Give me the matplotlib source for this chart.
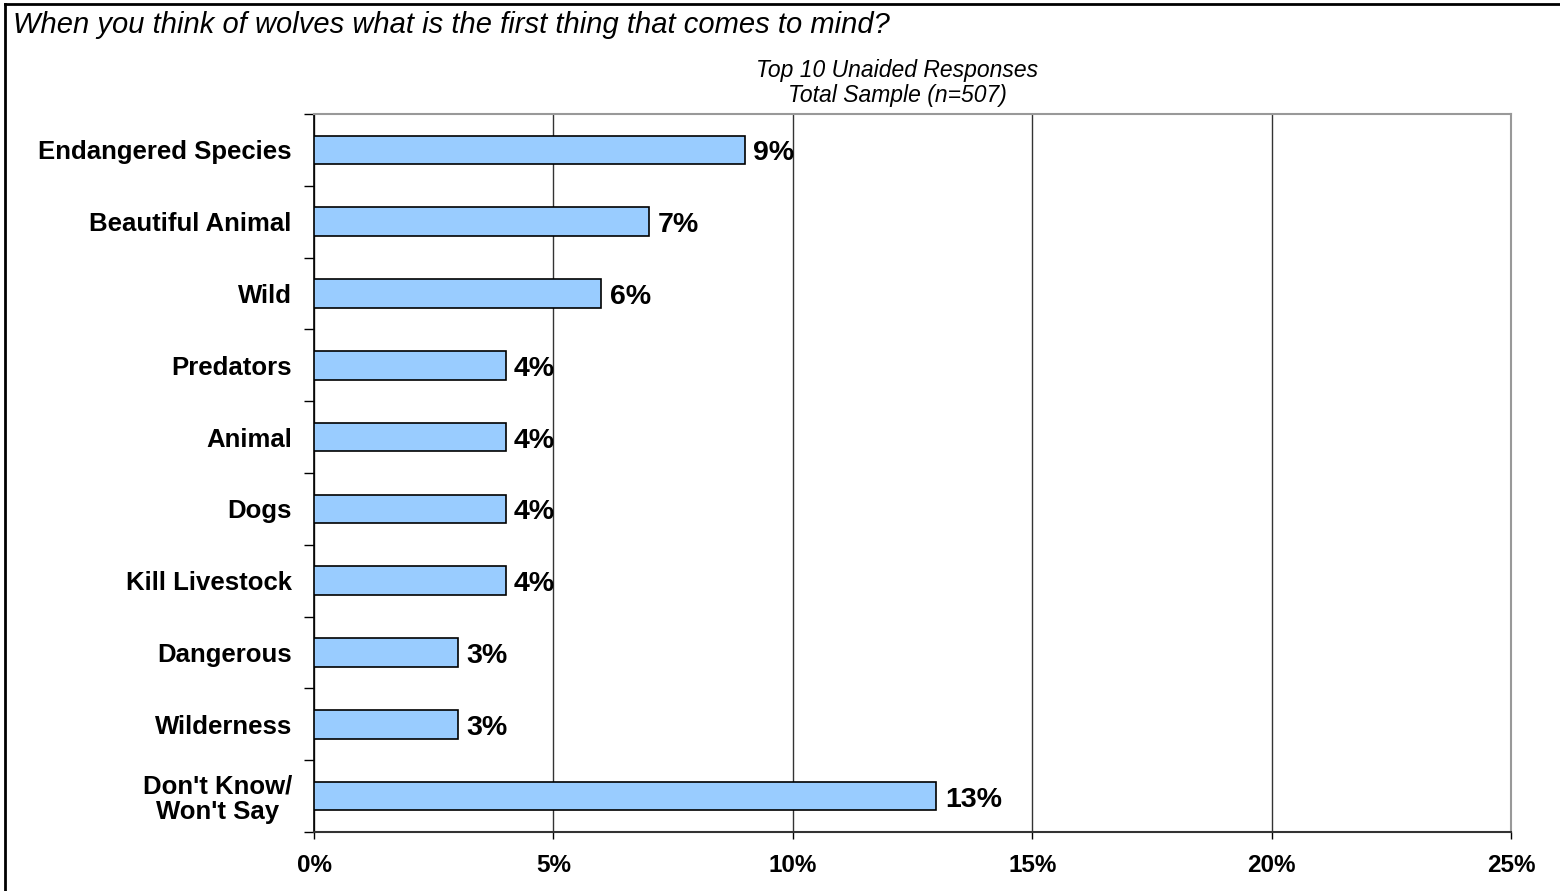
import numpy as np
import matplotlib.pyplot as plt
from matplotlib.lines import Line2D

plt.rcParams['font.family'] = ['Liberation Sans', 'DejaVu Sans']

# Data ------------------------------------------------------------------
categories = ["Endangered Species", "Beautiful Animal", "Wild", "Predators",
              "Animal", "Dogs", "Kill Livestock", "Dangerous", "Wilderness",
              "Don't Know/\nWon't Say"]
values = [9, 7, 6, 4, 4, 4, 4, 3, 3, 13]
xticks = [0, 5, 10, 15, 20, 25]
xtick_labels = ["0%", "5%", "10%", "15%", "20%", "25%"]

title = "When you think of wolves what is the first thing that comes to mind?"
subtitle = "Top 10 Unaided Responses\nTotal Sample (n=507)"

# Figure ----------------------------------------------------------------
fig = plt.figure(figsize=(15.6, 8.91), dpi=100)
ax = fig.add_axes([314/1560, 1 - 832/891, (1511-314)/1560, (832-114)/891])

y = np.arange(len(categories))
ax.barh(y, values, height=0.4, color="#99CCFF", edgecolor="black",
        linewidth=1.2, zorder=3)

for yi, v in zip(y, values):
    ax.annotate(f"{v}%", (v, yi), xytext=(6, -2.5), textcoords="offset points",
                ha="left", va="center", fontsize=20.5, fontweight="bold",
                zorder=4)

ax.set_xlim(0, 25)
ax.set_ylim(len(categories) - 0.5, -0.5)

ax.set_xticks(xticks)
ax.set_xticklabels(xtick_labels, fontsize=17.5, fontweight="bold")
ax.tick_params(axis="x", length=5, width=1, pad=11, color="black")

ax.set_yticks(y)
ax.set_yticklabels(categories, fontsize=18.5, fontweight="bold",
                   multialignment="center", linespacing=1.1)
ax.tick_params(axis="y", which="major", length=0, pad=16)
ax.set_yticks(np.arange(len(categories) + 1) - 0.5, minor=True)
ax.tick_params(axis="y", which="minor", length=7, width=1, color="black")

ax.grid(axis="x", color="#333333", linewidth=1, zorder=0)
ax.set_axisbelow(True)

ax.spines["left"].set_color("black")
ax.spines["left"].set_linewidth(1.2)
ax.spines["bottom"].set_color("#333333")
ax.spines["bottom"].set_linewidth(1.5)
ax.spines["top"].set_color("#999999")
ax.spines["top"].set_linewidth(1.5)
ax.spines["right"].set_color("#999999")
ax.spines["right"].set_linewidth(1.5)

fig.text(13/1560, 1 - 25/891, title, fontsize=21, style="italic",
         ha="left", va="center")
fig.text(897/1560, 1 - 83/891, subtitle, fontsize=16.5, style="italic",
         ha="center", va="center", linespacing=1.15)

# outer frame (left and top edges only)
fig.add_artist(Line2D([5/1560, 5/1560], [0, 1 - 4/891], transform=fig.transFigure,
                      color="black", linewidth=2))
fig.add_artist(Line2D([5/1560, 1], [1 - 4/891, 1 - 4/891], transform=fig.transFigure,
                      color="black", linewidth=2))

fig.savefig("out.png", dpi=100, facecolor="white")
